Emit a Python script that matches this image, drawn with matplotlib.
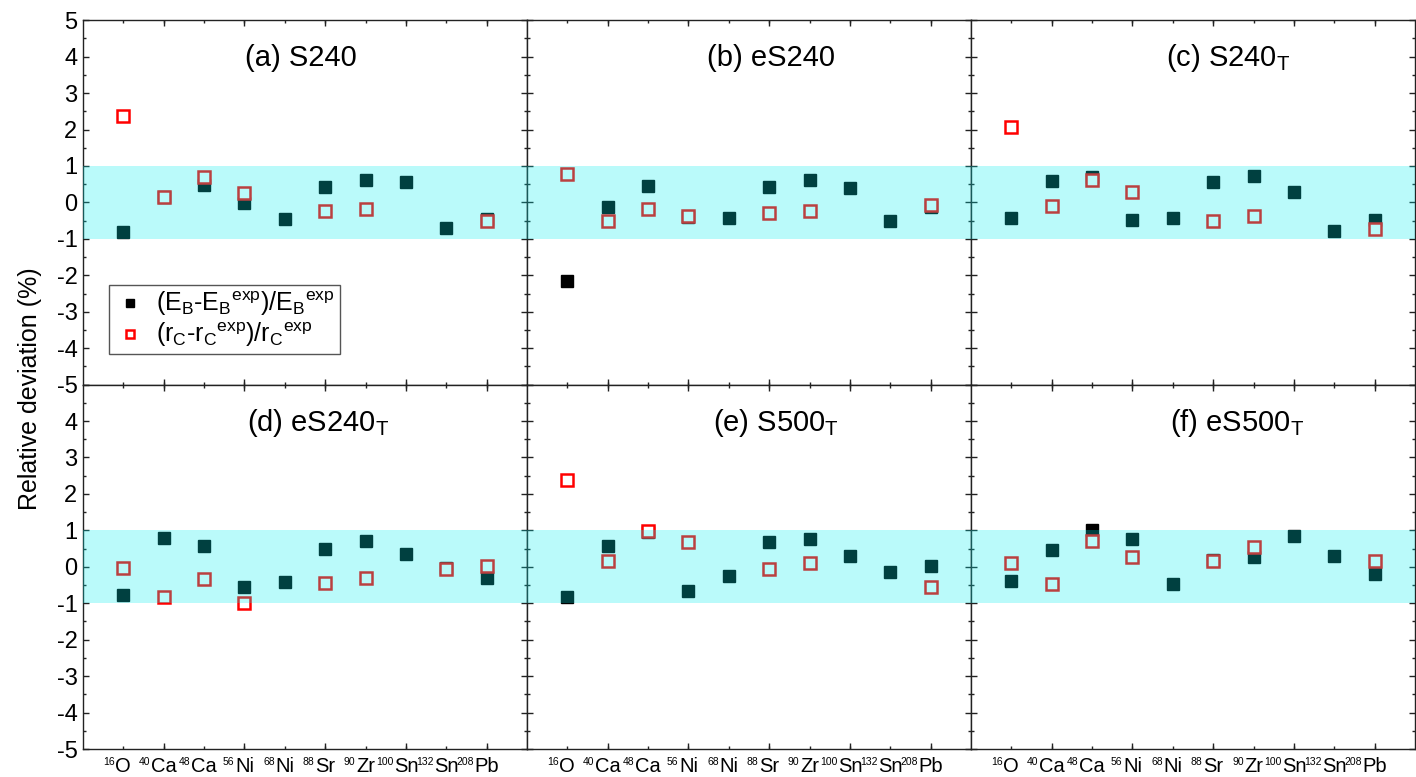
import matplotlib
matplotlib.use('Agg')
import matplotlib.pyplot as plt
import matplotlib.transforms as mtransforms
import numpy as np
from matplotlib.ticker import MultipleLocator, FixedLocator, FuncFormatter, NullFormatter

plt.rcParams['font.family'] = ['Liberation Sans', 'DejaVu Sans']
plt.rcParams['mathtext.fontset'] = 'custom'
plt.rcParams['mathtext.rm'] = 'Liberation Sans'
plt.rcParams['mathtext.it'] = 'Liberation Sans:italic'
plt.rcParams['axes.unicode_minus'] = False

# nucleus labels: mass number and element symbol
mass_numbers = ['16', '40', '48', '56', '68', '88', '90', '100', '132', '208']
elements = ['O', 'Ca', 'Ca', 'Ni', 'Ni', 'Sr', 'Zr', 'Sn', 'Sn', 'Pb']

panel_titles = ['(a) S240', '(b) eS240', r'(c) S240$_\mathregular{T}$',
                r'(d) eS240$_\mathregular{T}$', r'(e) S500$_\mathregular{T}$', r'(f) eS500$_\mathregular{T}$']

nan = np.nan
# binding energy deviations (%)
eb_a = [-0.81, 0.15, 0.48, -0.02, -0.46, 0.41, 0.61, 0.56, -0.69, -0.45]
eb_b = [-2.17, -0.13, 0.46, -0.41, -0.44, 0.43, 0.61, 0.40, -0.50, -0.13]
eb_c = [-0.44, 0.59, 0.70, -0.48, -0.44, 0.56, 0.73, 0.28, -0.78, -0.49]
eb_d = [-0.78, 0.79, 0.56, -0.55, -0.41, 0.49, 0.71, 0.35, -0.04, -0.30]
eb_e = [-0.82, 0.58, 0.96, -0.65, -0.25, 0.68, 0.76, 0.30, -0.13, 0.02]
eb_f = [-0.39, 0.45, 1.00, 0.75, -0.48, 0.20, 0.26, 0.85, 0.29, -0.20]
# charge radius deviations (%)
rc_a = [2.36, 0.15, 0.71, 0.27, nan, -0.24, -0.18, nan, nan, -0.50]
rc_b = [0.79, -0.50, -0.17, -0.36, nan, -0.29, -0.23, nan, nan, -0.06]
rc_c = [2.08, -0.11, 0.61, 0.28, nan, -0.50, -0.36, nan, nan, -0.72]
rc_d = [-0.02, -0.83, -0.34, -0.99, nan, -0.45, -0.31, nan, -0.07, 0.03]
rc_e = [2.39, 0.16, 0.98, 0.69, nan, -0.05, 0.11, nan, nan, -0.55]
rc_f = [0.11, -0.46, 0.70, 0.26, nan, 0.17, 0.54, nan, nan, 0.17]

eb_all = [eb_a, eb_b, eb_c, eb_d, eb_e, eb_f]
rc_all = [rc_a, rc_b, rc_c, rc_d, rc_e, rc_f]
title_x = [0.49, 0.55, 0.58, 0.53, 0.56, 0.60]

x = np.arange(1, len(elements) + 1)

fig, axes = plt.subplots(2, 3, figsize=(14.16, 7.77), dpi=100)
fig.subplots_adjust(left=0.0586, right=0.9993, top=0.974, bottom=0.036, wspace=0, hspace=0)

for k, ax in enumerate(axes.flat):
    row, col = divmod(k, 3)
    ax.plot(x, eb_all[k], 's', color='black', ms=8.6, zorder=2,
            label=r'(E$_\mathregular{B}$-E$_\mathregular{B}$$^\mathregular{exp}$)/E$_\mathregular{B}$$^\mathregular{exp}$')
    ax.plot(x, rc_all[k], 's', mfc='white', mec='red', mew=1.8, ms=8, zorder=2.1,
            label=r'(r$_\mathregular{C}$-r$_\mathregular{C}$$^\mathregular{exp}$)/r$_\mathregular{C}$$^\mathregular{exp}$')
    # +-1% band drawn over the points, as in the original plot
    ax.axhspan(-1, 1, color='#00f0f0', alpha=0.27, lw=0, zorder=3)

    ax.set_xlim(0, 11)
    ax.set_ylim(-5, 5)
    ax.xaxis.remove_overlapping_locs = False
    ax.xaxis.set_major_locator(FixedLocator(x))
    ax.xaxis.set_minor_locator(FixedLocator(x[1::2]))
    ax.xaxis.set_major_formatter(NullFormatter())
    ax.yaxis.set_major_locator(MultipleLocator(1))
    ax.yaxis.set_minor_locator(MultipleLocator(0.5))
    ax.tick_params(which='both', direction='in', top=True, right=True, color='#222222')
    ax.tick_params(which='major', length=2.5, width=1)
    ax.tick_params(which='minor', length=4, width=1)
    ax.tick_params(axis='y', which='major', length=4.5)
    ax.tick_params(axis='y', which='minor', length=2.5)
    if row == 1:
        # element symbol centred under the tick, small mass number to its upper left
        trans = mtransforms.blended_transform_factory(ax.transData, ax.transAxes)
        for xi, el, a in zip(x, elements, mass_numbers):
            sym = ax.text(xi, -0.064, el, transform=trans, ha='center', va='baseline', fontsize=14.5)
            ax.annotate(a, xy=(0, 1), xycoords=sym, xytext=(-0.3, 0.5), textcoords='offset points',
                        ha='right', va='top', fontsize=7.5)
    if col == 0:
        if row == 1:
            ax.yaxis.set_major_formatter(FuncFormatter(lambda v, p: '' if v > 4.5 else '%d' % v))
        else:
            ax.yaxis.set_major_formatter(FuncFormatter(lambda v, p: '%d' % v))
        ax.tick_params(axis='y', labelsize=17, pad=4)
    else:
        ax.set_yticklabels([])
    for sp in ax.spines.values():
        sp.set_color('#222222')
        sp.set_linewidth(1)
    ax.text(title_x[k], 0.895, panel_titles[k], transform=ax.transAxes,
            ha='center', va='center', fontsize=21)

leg = axes[0, 0].legend(loc='lower left', bbox_to_anchor=(0.058, 0.083), borderaxespad=0,
                        fontsize=18, fancybox=False, framealpha=1, edgecolor='#555555',
                        markerscale=0.75, handletextpad=0.4, handlelength=1.3,
                        borderpad=0.2, labelspacing=0.1)
leg.set_zorder(5)

fig.text(0.021, 0.5, 'Relative deviation (%)', rotation=90, ha='center', va='center', fontsize=18)

fig.savefig('out.png', dpi=100)
